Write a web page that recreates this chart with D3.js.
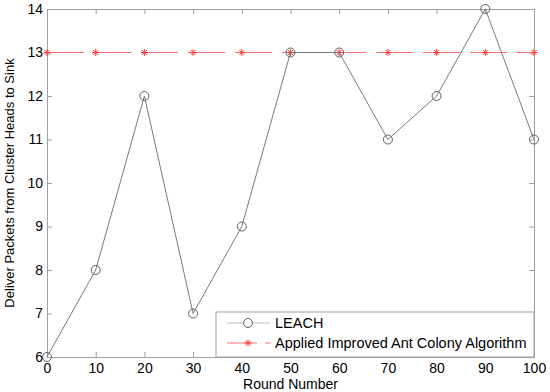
<!DOCTYPE html>
<html>
<head>
<meta charset="utf-8">
<script src="https://cdn.jsdelivr.net/npm/d3@7"></script>
<style>
	body { margin: 0; background: #fff; }
	text { font-family: "Liberation Sans", Arial, sans-serif; }
</style>
</head>
<body>
<script>
// data
const rounds = [0, 10, 20, 30, 40, 50, 60, 70, 80, 90, 100];
const leach = [6, 8, 12, 7, 9, 13, 13, 11, 12, 14, 11];
const antColony = [13, 13, 13, 13, 13, 13, 13, 13, 13, 13, 13];
const xTicks = [0, 10, 20, 30, 40, 50, 60, 70, 80, 90, 100];
const yTicks = [6, 7, 8, 9, 10, 11, 12, 13, 14];

const W = 550, H = 392;
const m = { left: 47, right: 16, top: 9, bottom: 35 };

let svg = d3.select("body").append("svg")
	.attr("width", W)
	.attr("height", H);

let x = d3.scaleLinear().domain([0, 100]).range([m.left, W - m.right]);
let y = d3.scaleLinear().domain([6, 14]).range([H - m.bottom, m.top]);

const frameColor = "#a0a0a0";

//ticks inside the box, bottom + left with labels, top + right plain
let xAxis = svg.append("g")
	.attr("transform", `translate(0,${y(6)})`)
	.call(d3.axisBottom(x).tickValues(xTicks).tickSizeInner(-5).tickSizeOuter(0).tickPadding(6));
let xTop = svg.append("g")
	.attr("transform", `translate(0,${y(14)})`)
	.call(d3.axisTop(x).tickValues(xTicks).tickSizeInner(-5).tickSizeOuter(0).tickFormat(""));
let yAxis = svg.append("g")
	.attr("transform", `translate(${x(0)},0)`)
	.call(d3.axisLeft(y).tickValues(yTicks).tickSizeInner(-5).tickSizeOuter(0).tickPadding(4));
let yRight = svg.append("g")
	.attr("transform", `translate(${x(100)},0)`)
	.call(d3.axisRight(y).tickValues(yTicks).tickSizeInner(-5).tickSizeOuter(0).tickFormat(""));

svg.selectAll(".domain, .tick line").attr("stroke", frameColor);
svg.selectAll(".tick text")
	.attr("fill", "#000")
	.style("font-size", "14px");

//ant colony line, dashed red
let line = d3.line().x((d, i) => x(rounds[i])).y(d => y(d));

svg.append("path")
	.datum(antColony)
	.attr("d", line)
	.attr("fill", "none")
	.attr("stroke", "#ff7070")
	.attr("stroke-width", 1)
	.attr("stroke-dasharray", "37,10");

//asterisk markers
function drawStar(g, cx, cy) {
	let s = g.append("g").attr("transform", `translate(${cx},${cy})`)
		.attr("stroke", "#ff4040").attr("stroke-width", 1);
	s.append("line").attr("x1", -3.5).attr("x2", 3.5).attr("y1", 0).attr("y2", 0);
	s.append("line").attr("x1", 0).attr("x2", 0).attr("y1", -3.5).attr("y2", 3.5);
	s.append("line").attr("x1", -2.5).attr("x2", 2.5).attr("y1", -2.5).attr("y2", 2.5);
	s.append("line").attr("x1", -2.5).attr("x2", 2.5).attr("y1", 2.5).attr("y2", -2.5);
}
let stars = svg.append("g");
antColony.forEach((d, i) => drawStar(stars, x(rounds[i]), y(d)));

//LEACH line with circles
svg.append("path")
	.datum(leach)
	.attr("d", line)
	.attr("fill", "none")
	.attr("stroke", "#7a7a7a")
	.attr("stroke-width", 1);

svg.append("g").selectAll("circle")
	.data(leach)
	.enter().append("circle")
	.attr("cx", (d, i) => x(rounds[i]))
	.attr("cy", d => y(d))
	.attr("r", 4.5)
	.attr("fill", "none")
	.attr("stroke", "#606060")
	.attr("stroke-width", 1);

//legend
let lg = svg.append("g").attr("transform", "translate(216,312)");
lg.append("rect")
	.attr("width", x(100) - 216)
	.attr("height", y(6) - 312)
	.attr("fill", "#fff")
	.attr("stroke", frameColor);
lg.append("line").attr("x1", 11).attr("x2", 54).attr("y1", 11).attr("y2", 11)
	.attr("stroke", "#bbbbbb");
lg.append("circle").attr("cx", 32).attr("cy", 11).attr("r", 4.5)
	.attr("fill", "#fff").attr("stroke", "#606060");
lg.append("text").attr("x", 59).attr("y", 16).style("font-size", "14.5px").text("LEACH");
lg.append("line").attr("x1", 11).attr("x2", 54).attr("y1", 31).attr("y2", 31)
	.attr("stroke", "#ff7070").attr("stroke-dasharray", "30,8,5,10");
drawStar(lg, 32, 31);
lg.append("text").attr("x", 59).attr("y", 36).style("font-size", "14.5px")
	.text("Applied Improved Ant Colony Algorithm");

//axis titles
svg.append("text")
	.attr("x", (x(0) + x(100)) / 2)
	.attr("y", 389)
	.attr("text-anchor", "middle")
	.style("font-size", "14px")
	.text("Round Number");

svg.append("text")
	.attr("transform", `translate(14,${(y(6) + y(14)) / 2}) rotate(-90)`)
	.attr("text-anchor", "middle")
	.style("font-size", "13px")
	.text("Deliver Packets from Cluster Heads to Sink");
</script>
</body>
</html>
